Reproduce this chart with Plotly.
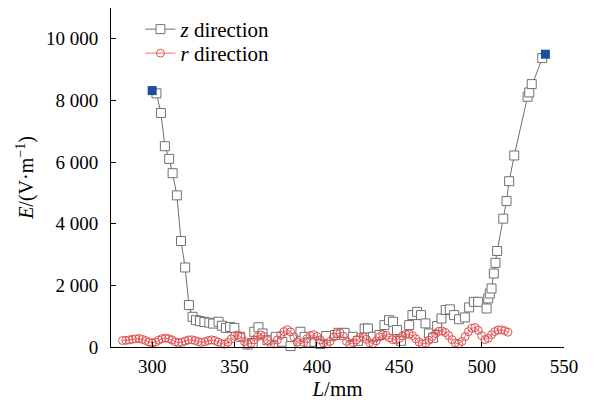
import plotly.graph_objects as go

# z direction (hollow squares)
z_L = [302.6, 305.3, 307.7, 310.3, 312.4, 315.0, 317.5, 320.0, 322.3, 324.5,
       326.6, 329.0, 331.7, 334.7, 337.0, 340.3, 342.3, 344.8, 347.3, 349.9,
       353.5, 358.0, 361.0, 362.0, 364.5, 367.0, 370.0, 375.0, 379.0, 384.0,
       390.0, 392.5, 395.0, 398.5, 402.0, 405.6, 411.0, 413.0, 416.8, 421.8,
       425.0, 429.0, 431.0, 434.0, 438.0, 441.0, 443.8, 446.2, 448.6, 451.0,
       456.0, 458.0, 460.8, 463.2, 465.9, 468.0, 470.5, 473.0, 475.6, 478.2,
       480.7, 483.3, 486.3, 489.8, 492.4, 495.3, 497.9, 503.0, 504.0, 505.0,
       506.0, 507.4, 508.4, 509.4, 513.1, 515.1, 516.7, 519.8, 527.9, 528.9,
       530.4, 536.8]
z_E = [8230, 7595, 6515, 6105, 5640, 4920, 3440, 2580, 1360, 980,
       870, 840, 810, 790, 760, 820, 690, 620, 650, 620,
       330, 80, 130, 495, 640, 440, 220, 330, 170, 30,
       495, 330, 150, 170, 100, 355, 390, 460, 460, 330,
       200, 600, 600, 330, 390, 710, 870, 820, 550, 200,
       710, 1035, 1140, 1035, 765, 440, 300, 680, 925, 1200,
       1220, 1035, 900, 960, 1285, 1465, 1465, 1250, 1575, 1735,
       1900, 2385, 2730, 3115, 4165, 4735, 5380, 6215, 8120, 8260,
       8530, 9375]

# end points (filled blue squares)
end_L = [300.0, 538.7]
end_E = [8320, 9500]

# r direction (hollow circles), every 2 mm from 282 to 516
r_L = list(range(282, 517, 2))
r_E = [210, 215, 230, 250, 265, 275, 250, 210, 160, 130,
       160, 220, 270, 290, 270, 230, 170, 140, 150, 190,
       230, 235, 210, 170, 150, 170, 210, 230, 210, 160,
       110, 90, 150, 260, 360, 390, 320, 180, 90, 120,
       230, 340, 390, 340, 220, 110, 100, 230, 380, 500,
       560, 490, 330, 160, 90, 150, 270, 370, 400, 340,
       230, 130, 100, 180, 320, 430, 460, 350, 180, 100,
       130, 230, 310, 330, 250, 140, 110, 200, 330, 400,
       380, 300, 240, 230, 280, 360, 410, 420, 370, 270,
       160, 100, 120, 220, 340, 440, 510, 520, 470, 370,
       240, 130, 100, 180, 340, 500, 610, 630, 540, 370,
       240, 280, 400, 500, 550, 560, 530, 480]

y_ticks = [0, 2000, 4000, 6000, 8000, 10000]
y_ticktext = ["0", "2 000", "4 000", "6 000", "8 000", "10 000"]
x_ticks = [300, 350, 400, 450, 500, 550]

FONT = "Liberation Serif, Times New Roman, serif"

fig = go.Figure()
fig.add_trace(go.Scatter(
    x=z_L, y=z_E, mode="lines+markers", name="<i>z</i> direction",
    legend="legend",
    line=dict(color="#707070", width=1),
    marker=dict(symbol="square", size=9, color="white",
                line=dict(color="#707070", width=1)),
    cliponaxis=False))
fig.add_trace(go.Scatter(
    x=r_L, y=r_E, mode="lines+markers", name="<i>r</i> direction",
    legend="legend2",
    line=dict(color="#e57373", width=1),
    marker=dict(symbol="circle", size=8, color="rgba(255,255,255,0)",
                line=dict(color="#e05050", width=1)),
    cliponaxis=False))
fig.add_trace(go.Scatter(
    x=end_L, y=end_E, mode="markers", showlegend=False,
    marker=dict(symbol="square", size=9, color="#1f4e9c",
                line=dict(color="#1f4e9c", width=0)),
    cliponaxis=False))

leg_common = dict(xanchor="left", yanchor="top", bgcolor="rgba(0,0,0,0)",
                  font=dict(family=FONT, size=21), itemwidth=30,
                  borderwidth=0)

fig.update_layout(
    width=597, height=403,
    margin=dict(l=111, r=33, t=8, b=56),
    paper_bgcolor="white", plot_bgcolor="white",
    font=dict(family=FONT, size=19, color="black"),
    showlegend=True,
    legend=dict(x=0.065, y=1 - (9 - 8) / 339, **leg_common),
    legend2=dict(x=0.065, y=1 - (33 - 8) / 339, **leg_common),
    xaxis=dict(range=[275, 550], tickvals=x_ticks, ticks="inside", ticklen=5,
               tickcolor="black", showline=True, linecolor="black", linewidth=1,
               showgrid=False, zeroline=False, ticklabelstandoff=2,
               title=dict(text="<i>L</i>/mm", standoff=4,
                          font=dict(family=FONT, size=21)),
               tickfont=dict(family=FONT, size=19)),
    yaxis=dict(range=[0, 11000], tickvals=y_ticks, ticktext=y_ticktext,
               ticks="inside", ticklen=5, tickcolor="black",
               showline=True, linecolor="black", linewidth=1,
               showgrid=False, zeroline=False, ticklabelstandoff=8,
               title=dict(text="<i>E</i>/(V·m<sup>−1</sup>)", standoff=6,
                          font=dict(family=FONT, size=20)),
               tickfont=dict(family=FONT, size=19)),
)

fig.write_html("out.html")
